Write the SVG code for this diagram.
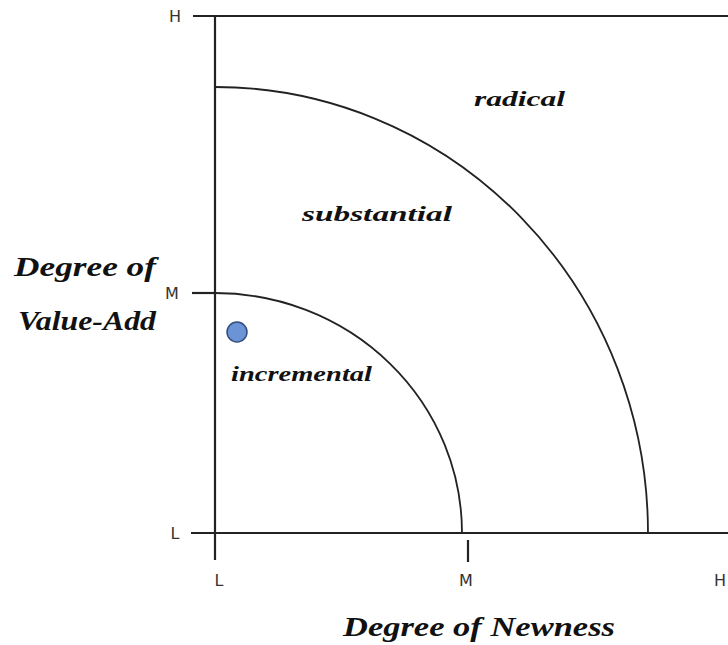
<svg xmlns="http://www.w3.org/2000/svg" width="728" height="645" viewBox="0 0 728 645">
<style>
.ax{stroke:#222;stroke-width:2.2;fill:none}
.arc{stroke:#222;stroke-width:1.8;fill:none}
.tk{font-family:"DejaVu Sans",sans-serif;font-size:16px;fill:#333}
.zone{font-family:"Liberation Serif",serif;font-style:italic;font-weight:bold;font-size:22px;fill:#111}
.title{font-family:"Liberation Serif",serif;font-style:italic;font-weight:bold;font-size:27px;fill:#111}
</style>
<rect width="728" height="645" fill="#fff"/>
<g id="axes">
<line class="ax" x1="215" y1="16" x2="215" y2="560"/>
<line class="ax" x1="193" y1="16" x2="728" y2="16"/>
<line class="ax" x1="191" y1="533" x2="728" y2="533"/>
<line class="ax" x1="192" y1="293" x2="215" y2="293"/>
<line class="ax" x1="468" y1="540" x2="468" y2="562"/>
</g>
<g id="connectors">
<path class="arc" d="M215,293 A247,240 0 0 1 462,533"/>
<path class="arc" d="M215,87 A433,446 0 0 1 648,533"/>
</g>
<g id="ticks">
<text class="tk" x="175" y="22" text-anchor="middle">H</text>
<text class="tk" x="172" y="299" text-anchor="middle">M</text>
<text class="tk" x="175" y="539" text-anchor="middle">L</text>
<text class="tk" x="219" y="586" text-anchor="middle">L</text>
<text class="tk" x="466" y="586" text-anchor="middle">M</text>
<text class="tk" x="714" y="586">H</text>
</g>
<g id="zone-radical"><text class="zone" x="474" y="106" textLength="91" lengthAdjust="spacingAndGlyphs">radical</text></g>
<g id="zone-substantial"><text class="zone" x="302" y="221" textLength="150" lengthAdjust="spacingAndGlyphs">substantial</text></g>
<g id="zone-incremental"><text class="zone" x="231" y="381" textLength="141" lengthAdjust="spacingAndGlyphs">incremental</text></g>
<g id="point"><circle cx="237" cy="332" r="10" fill="#6b93d6" stroke="#2f4f80" stroke-width="1.5"/></g>
<g id="y-label">
<text class="title" x="14" y="276" textLength="142" lengthAdjust="spacingAndGlyphs">Degree of</text>
<text class="title" x="18" y="330" textLength="138" lengthAdjust="spacingAndGlyphs">Value-Add</text>
</g>
<g id="x-label"><text class="title" x="343" y="636" textLength="272" lengthAdjust="spacingAndGlyphs" style="font-weight:600">Degree of Newness</text></g>
</svg>
